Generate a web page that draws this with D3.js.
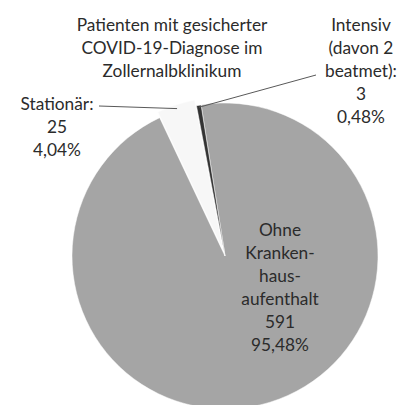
<!DOCTYPE html>
<html>
<head>
<meta charset="utf-8">
<script src="https://cdn.jsdelivr.net/npm/d3@7/dist/d3.min.js"></script>
<style>
  body { margin: 0; background: #fff; }
  text { font-family: Lato, "Open Sans", sans-serif; fill: #2b2b2b; }
</style>
</head>
<body>
<div id="chart"></div>
<script>
// data
const categories = ["Ohne Krankenhausaufenthalt", "Stationär", "Intensiv"]
const counts = [591, 25, 3]
const labelLines = [
  ["Ohne", "Kranken-", "haus-", "aufenthalt"],
  ["Stationär:"],
  ["Intensiv", "(davon 2", "beatmet):"]
]
const titleLines = ["Patienten mit gesicherter", "COVID-19-Diagnose im", "Zollernalbklinikum"]

const width = 414, height = 405
const cx = 225, cy = 256, radius = 153
const colors = ["#a5a5a5", "#f7f7f7", "#333333"]
const lineH = 23
const fontSize = 17.3

const de = d3.formatLocale({decimal: ",", thousands: ".", grouping: [3], currency: ["", "€"]})
const pct = de.format(".2%")
const total = d3.sum(counts)

const data = categories.map((c, i) => ({name: c, value: counts[i], lines: labelLines[i]}))

const svg = d3.select("#chart").append("svg").attr("width", width).attr("height", height)
const g = svg.append("g").attr("transform", `translate(${cx},${cy})`)

const start = -9 * Math.PI / 180
const pie = d3.pie().value(d => d.value).sort(null).startAngle(start).endAngle(start + 2 * Math.PI)
const arcs = pie(data)
const arc = d3.arc().innerRadius(0).outerRadius(radius)

// explode offset for the small white slice
const explode = [0, 6, 0]
const offset = (d, i) => {
  let a = (d.startAngle + d.endAngle) / 2
  return [Math.sin(a) * explode[i], -Math.cos(a) * explode[i]]
}

g.selectAll("path").data(arcs).enter().append("path")
  .attr("d", arc)
  .attr("fill", (d, i) => colors[i])
  .attr("stroke", "#fff")
  .attr("stroke-width", 0.5)
  .attr("transform", (d, i) => `translate(${offset(d, i)})`)

// point on the outer edge of a slice, for leader lines
const edgePoint = (d, i, r) => {
  let a = (d.startAngle + d.endAngle) / 2
  let o = offset(d, i)
  return [cx + o[0] + Math.sin(a) * r, cy + o[1] - Math.cos(a) * r]
}

// title
svg.append("g").selectAll("text").data(titleLines).enter().append("text")
  .attr("x", 172).attr("y", (d, i) => 31 + i * lineH)
  .attr("text-anchor", "middle").attr("font-size", fontSize)
  .text(d => d)

// label positions (block center x, first baseline y)
const labelPos = [[280, 236], [57, 110], [361, 31]]

arcs.forEach((d, i) => {
  let lines = d.data.lines.concat([String(d.data.value), pct(d.data.value / total)])
  let [lx, ly] = labelPos[i]
  svg.append("g").selectAll("text").data(lines).enter().append("text")
    .attr("x", lx).attr("y", (t, j) => ly + j * lineH)
    .attr("text-anchor", "middle").attr("font-size", fontSize)
    .text(t => t)
})

// leader lines
const leaders = [null, {from: [99, 106], r: radius - 4}, {from: [316, 75], r: radius - 2}]
arcs.forEach((d, i) => {
  if (!leaders[i]) return
  let p = edgePoint(d, i, leaders[i].r)
  svg.append("line")
    .attr("x1", leaders[i].from[0]).attr("y1", leaders[i].from[1])
    .attr("x2", p[0]).attr("y2", p[1])
    .attr("stroke", "#595959").attr("stroke-width", 1)
})
</script>
</body>
</html>
